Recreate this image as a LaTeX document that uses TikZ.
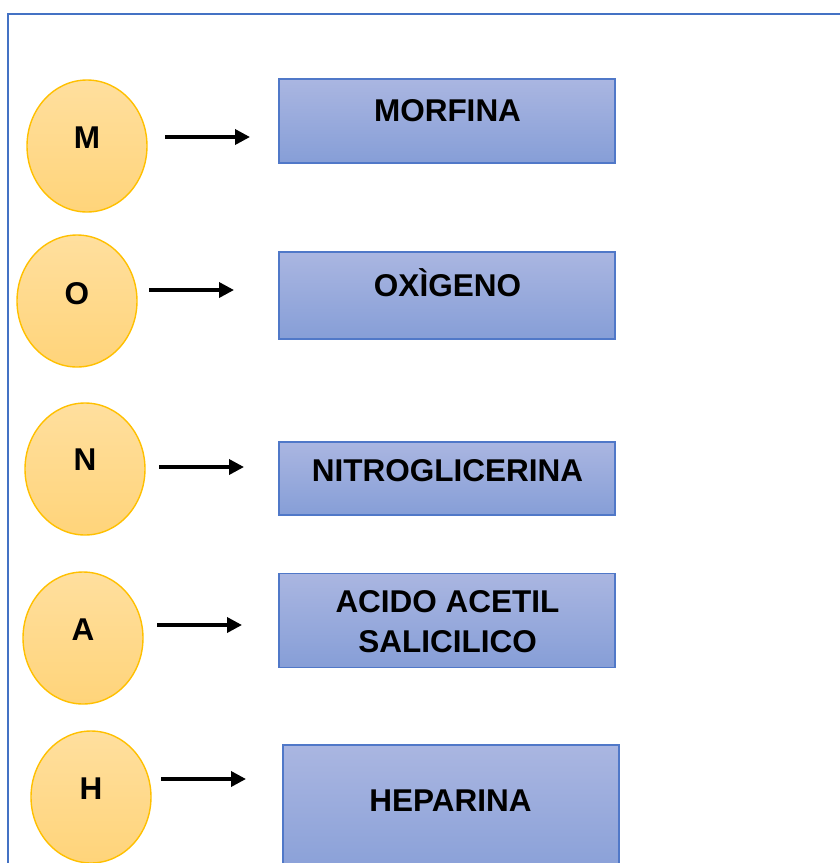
\documentclass[tikz,border=0pt]{standalone}
\usepackage{fontspec}
\setmainfont{Liberation Sans}
\usetikzlibrary{shapes.geometric,arrows.meta}
\definecolor{frameblue}{RGB}{68,114,196}
\definecolor{circtop}{RGB}{255,223,158}
\definecolor{circbot}{RGB}{255,212,122}
\definecolor{circline}{RGB}{255,192,0}
\definecolor{boxtop}{RGB}{170,182,225}
\definecolor{boxbot}{RGB}{134,158,215}
\definecolor{boxline}{RGB}{80,120,200}
\tikzset{
  circ/.style={ellipse, draw=circline, line width=1.4pt, top color=circtop, bottom color=circbot, minimum width=120pt, minimum height=132pt, inner sep=0pt},
  drugbox/.style={rectangle, draw=boxline, line width=1.5pt, top color=boxtop, bottom color=boxbot, minimum width=336pt, inner sep=0pt},
  lbl/.style={font=\bfseries\fontsize{31.5}{40}\selectfont, text height=22.5pt, text depth=0pt, inner sep=0pt, align=center},
  arr/.style={line width=3.5pt, -{Triangle[length=15pt 0 0, width=15pt 0 0]}}
}
\begin{document}
\begin{tikzpicture}[x=1pt,y=-1pt]
\useasboundingbox (0,0) rectangle (840,863);
\clip (0,0) rectangle (840,863);
\fill[white] (0,0) rectangle (840,863);
\draw[frameblue, line width=2.6pt] (8,14) rectangle (860,900);

% circles
\node[circ] (cM) at (87,146) {};
\node[circ] (cO) at (77,301) {};
\node[circ] (cN) at (85,469) {};
\node[circ] (cA) at (83,638) {};
\node[circ] (cH) at (91,797) {};
\node[lbl] (tM) at (87,137) {M};
\node[lbl] (tO) at (77,293) {O};
\node[lbl] (tN) at (85,459) {N};
\node[lbl] (tA) at (83,629) {A};
\node[lbl] (tH) at (91,788) {H};

% boxes
\node[drugbox, minimum height=84pt] (bM) at (447,121) {};
\node[drugbox, minimum height=87pt] (bO) at (447,295.5) {};
\node[drugbox, minimum height=73pt] (bN) at (447,478.5) {};
\node[drugbox, minimum height=94pt] (bA) at (447,620.5) {};
\node[drugbox, minimum height=140pt] (bH) at (451,815) {};
\node[lbl] (lM) at (447.5,110) {MORFINA};
\node[lbl, anchor=base] (lO) at (447.5,296.5) {OXÌGENO};
\node[lbl] (lN) at (447.5,470.5) {NITROGLICERINA};
\node[lbl] (lA) at (447.5,641.5) {ACIDO ACETIL\\SALICILICO};
\node[lbl] (lH) at (450.5,800) {HEPARINA};

% arrows
\coordinate (aM1) at (165,137); \coordinate (aM2) at (250,137);
\coordinate (aO1) at (149,290); \coordinate (aO2) at (234,290);
\coordinate (aN1) at (159,467); \coordinate (aN2) at (244,467);
\coordinate (aA1) at (157,625); \coordinate (aA2) at (242,625);
\coordinate (aH1) at (161,779); \coordinate (aH2) at (246,779);
\draw[arr] (aM1) -- (aM2);
\draw[arr] (aO1) -- (aO2);
\draw[arr] (aN1) -- (aN2);
\draw[arr] (aA1) -- (aA2);
\draw[arr] (aH1) -- (aH2);
\end{tikzpicture}
\end{document}
